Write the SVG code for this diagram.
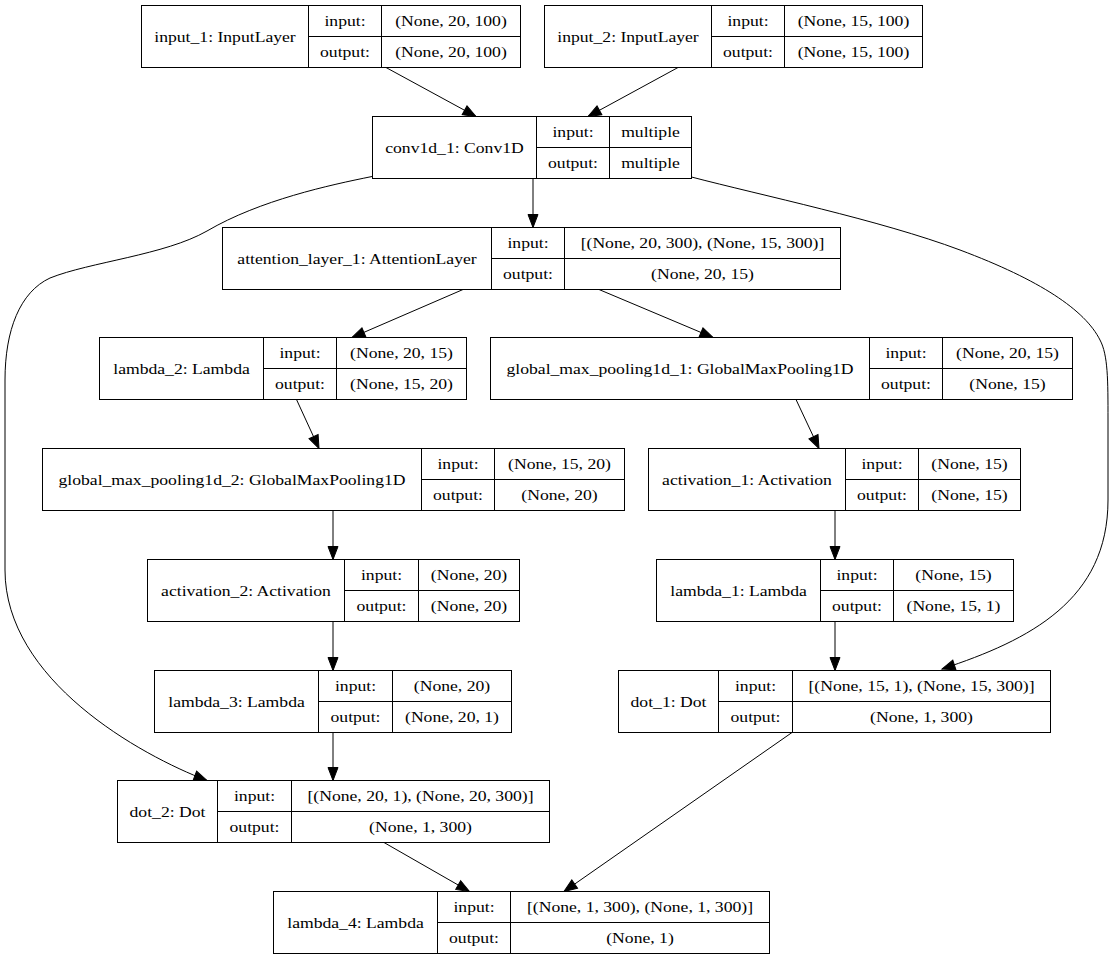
<svg xmlns="http://www.w3.org/2000/svg" width="1115" height="959" viewBox="0 0 1115 959">
<defs>
<style>
.box{fill:#fff;stroke:#000;stroke-width:1}
.ln{fill:none;stroke:#000;stroke-width:1}
.t{font-family:'Liberation Serif','Times New Roman',serif;font-size:14.7px;text-anchor:middle;fill:#000}
.e{fill:none;stroke:#000;stroke-width:1;marker-end:url(#ah)}
</style>
<marker id="ah" markerUnits="userSpaceOnUse" markerWidth="14" markerHeight="11" refX="13" refY="5.5" orient="auto" overflow="visible">
<path d="M0,0.5 L13,5.5 L0,10.5 z" fill="#000" stroke="#000" stroke-width="1"/>
</marker>
</defs>
<rect x="0" y="0" width="1115" height="959" fill="#fff"/>

<g id="edges">
<path class="e" d="M386,67.5 L476,116.5"/>
<path class="e" d="M678,67.5 L588,116.5"/>
<path class="e" d="M533,178.5 L533,227.5"/>
<path class="e" d="M372,176.5 C330,185 260,200 207,231 C165,255 90,262 50,278 C20,292 5,330 5,380 L5,570 C5,680 140,755 207,780.5"/>
<path class="e" d="M691.5,177 C760,195 880,220 960,250 C1040,280 1085,310 1100,340 C1108,355 1108,380 1108,420 L1108,500 C1108,600 1030,640 942,669"/>
<path class="e" d="M463,289.5 L352,337.5"/>
<path class="e" d="M599,289.5 L713,337.5"/>
<path class="e" d="M296.5,399.5 L319,448.5"/>
<path class="e" d="M796,399.5 L819,448.5"/>
<path class="e" d="M333,510.5 L333,559.5"/>
<path class="e" d="M835,510.5 L835,559.5"/>
<path class="e" d="M333,621.5 L333,670.5"/>
<path class="e" d="M835,621.5 L835,670.5"/>
<path class="e" d="M333,732.5 L333,780.5"/>
<path class="e" d="M384,842.5 L469.5,891.5"/>
<path class="e" d="M792,732.5 L564,891.5"/>
</g>

<g id="input_1">
<rect class="box" x="141.5" y="5.5" width="379" height="62"/>
<path class="ln" d="M308.5,5.5V67.5M381.5,5.5V67.5M308.5,36.5H520.5"/>
<text class="t" transform="translate(225,41.5) scale(1.2,1)">input_1: InputLayer</text>
<text class="t" transform="translate(345,26) scale(1.2,1)">input:</text>
<text class="t" transform="translate(345,57) scale(1.2,1)">output:</text>
<text class="t" transform="translate(451,26) scale(1.2,1)">(None, 20, 100)</text>
<text class="t" transform="translate(451,57) scale(1.2,1)">(None, 20, 100)</text>
</g>

<g id="input_2">
<rect class="box" x="544.5" y="5.5" width="378" height="62"/>
<path class="ln" d="M711.5,5.5V67.5M784.5,5.5V67.5M711.5,36.5H922.5"/>
<text class="t" transform="translate(628,41.5) scale(1.2,1)">input_2: InputLayer</text>
<text class="t" transform="translate(748,26) scale(1.2,1)">input:</text>
<text class="t" transform="translate(748,57) scale(1.2,1)">output:</text>
<text class="t" transform="translate(853.5,26) scale(1.2,1)">(None, 15, 100)</text>
<text class="t" transform="translate(853.5,57) scale(1.2,1)">(None, 15, 100)</text>
</g>

<g id="conv1d_1">
<rect class="box" x="372.5" y="116.5" width="319" height="62"/>
<path class="ln" d="M536.5,116.5V178.5M609.5,116.5V178.5M536.5,147.5H691.5"/>
<text class="t" transform="translate(454.5,152.5) scale(1.2,1)">conv1d_1: Conv1D</text>
<text class="t" transform="translate(573,137) scale(1.2,1)">input:</text>
<text class="t" transform="translate(573,168) scale(1.2,1)">output:</text>
<text class="t" transform="translate(650.5,137) scale(1.2,1)">multiple</text>
<text class="t" transform="translate(650.5,168) scale(1.2,1)">multiple</text>
</g>

<g id="attention_layer_1">
<rect class="box" x="222.5" y="227.5" width="618" height="62"/>
<path class="ln" d="M491.5,227.5V289.5M564.5,227.5V289.5M491.5,258.5H840.5"/>
<text class="t" transform="translate(357,263.5) scale(1.2,1)">attention_layer_1: AttentionLayer</text>
<text class="t" transform="translate(528,248) scale(1.2,1)">input:</text>
<text class="t" transform="translate(528,279) scale(1.2,1)">output:</text>
<text class="t" transform="translate(702.5,248) scale(1.2,1)">[(None, 20, 300), (None, 15, 300)]</text>
<text class="t" transform="translate(702.5,279) scale(1.2,1)">(None, 20, 15)</text>
</g>

<g id="lambda_2">
<rect class="box" x="99.5" y="337.5" width="367" height="62"/>
<path class="ln" d="M263.5,337.5V399.5M336.5,337.5V399.5M263.5,368.5H466.5"/>
<text class="t" transform="translate(181.5,373.5) scale(1.2,1)">lambda_2: Lambda</text>
<text class="t" transform="translate(300,358) scale(1.2,1)">input:</text>
<text class="t" transform="translate(300,389) scale(1.2,1)">output:</text>
<text class="t" transform="translate(401.5,358) scale(1.2,1)">(None, 20, 15)</text>
<text class="t" transform="translate(401.5,389) scale(1.2,1)">(None, 15, 20)</text>
</g>

<g id="global_max_pooling1d_1">
<rect class="box" x="490.5" y="337.5" width="582" height="62"/>
<path class="ln" d="M869.5,337.5V399.5M942.5,337.5V399.5M869.5,368.5H1072.5"/>
<text class="t" transform="translate(680,373.5) scale(1.2,1)">global_max_pooling1d_1: GlobalMaxPooling1D</text>
<text class="t" transform="translate(906,358) scale(1.2,1)">input:</text>
<text class="t" transform="translate(906,389) scale(1.2,1)">output:</text>
<text class="t" transform="translate(1007.5,358) scale(1.2,1)">(None, 20, 15)</text>
<text class="t" transform="translate(1007.5,389) scale(1.2,1)">(None, 15)</text>
</g>

<g id="global_max_pooling1d_2">
<rect class="box" x="42.5" y="448.5" width="582" height="62"/>
<path class="ln" d="M421.5,448.5V510.5M494.5,448.5V510.5M421.5,479.5H624.5"/>
<text class="t" transform="translate(232,484.5) scale(1.2,1)">global_max_pooling1d_2: GlobalMaxPooling1D</text>
<text class="t" transform="translate(458,469) scale(1.2,1)">input:</text>
<text class="t" transform="translate(458,500) scale(1.2,1)">output:</text>
<text class="t" transform="translate(559.5,469) scale(1.2,1)">(None, 15, 20)</text>
<text class="t" transform="translate(559.5,500) scale(1.2,1)">(None, 20)</text>
</g>

<g id="activation_1">
<rect class="box" x="648.5" y="448.5" width="372" height="62"/>
<path class="ln" d="M845.5,448.5V510.5M918.5,448.5V510.5M845.5,479.5H1020.5"/>
<text class="t" transform="translate(747,484.5) scale(1.2,1)">activation_1: Activation</text>
<text class="t" transform="translate(882,469) scale(1.2,1)">input:</text>
<text class="t" transform="translate(882,500) scale(1.2,1)">output:</text>
<text class="t" transform="translate(969.5,469) scale(1.2,1)">(None, 15)</text>
<text class="t" transform="translate(969.5,500) scale(1.2,1)">(None, 15)</text>
</g>

<g id="activation_2">
<rect class="box" x="147.5" y="559.5" width="372" height="62"/>
<path class="ln" d="M344.5,559.5V621.5M418.5,559.5V621.5M344.5,590.5H519.5"/>
<text class="t" transform="translate(246,595.5) scale(1.2,1)">activation_2: Activation</text>
<text class="t" transform="translate(381.5,580) scale(1.2,1)">input:</text>
<text class="t" transform="translate(381.5,611) scale(1.2,1)">output:</text>
<text class="t" transform="translate(469,580) scale(1.2,1)">(None, 20)</text>
<text class="t" transform="translate(469,611) scale(1.2,1)">(None, 20)</text>
</g>

<g id="lambda_1">
<rect class="box" x="656.5" y="559.5" width="357" height="62"/>
<path class="ln" d="M820.5,559.5V621.5M893.5,559.5V621.5M820.5,590.5H1013.5"/>
<text class="t" transform="translate(738.5,595.5) scale(1.2,1)">lambda_1: Lambda</text>
<text class="t" transform="translate(857,580) scale(1.2,1)">input:</text>
<text class="t" transform="translate(857,611) scale(1.2,1)">output:</text>
<text class="t" transform="translate(953.5,580) scale(1.2,1)">(None, 15)</text>
<text class="t" transform="translate(953.5,611) scale(1.2,1)">(None, 15, 1)</text>
</g>

<g id="lambda_3">
<rect class="box" x="154.5" y="670.5" width="357" height="62"/>
<path class="ln" d="M318.5,670.5V732.5M392.5,670.5V732.5M318.5,701.5H511.5"/>
<text class="t" transform="translate(236.5,706.5) scale(1.2,1)">lambda_3: Lambda</text>
<text class="t" transform="translate(355.5,691) scale(1.2,1)">input:</text>
<text class="t" transform="translate(355.5,722) scale(1.2,1)">output:</text>
<text class="t" transform="translate(452,691) scale(1.2,1)">(None, 20)</text>
<text class="t" transform="translate(452,722) scale(1.2,1)">(None, 20, 1)</text>
</g>

<g id="dot_1">
<rect class="box" x="618.5" y="670.5" width="432" height="62"/>
<path class="ln" d="M718.5,670.5V732.5M792.5,670.5V732.5M718.5,701.5H1050.5"/>
<text class="t" transform="translate(668.5,706.5) scale(1.2,1)">dot_1: Dot</text>
<text class="t" transform="translate(755.5,691) scale(1.2,1)">input:</text>
<text class="t" transform="translate(755.5,722) scale(1.2,1)">output:</text>
<text class="t" transform="translate(921.5,691) scale(1.2,1)">[(None, 15, 1), (None, 15, 300)]</text>
<text class="t" transform="translate(921.5,722) scale(1.2,1)">(None, 1, 300)</text>
</g>

<g id="dot_2">
<rect class="box" x="117.5" y="780.5" width="432" height="62"/>
<path class="ln" d="M217.5,780.5V842.5M291.5,780.5V842.5M217.5,811.5H549.5"/>
<text class="t" transform="translate(167.5,816.5) scale(1.2,1)">dot_2: Dot</text>
<text class="t" transform="translate(254.5,801) scale(1.2,1)">input:</text>
<text class="t" transform="translate(254.5,832) scale(1.2,1)">output:</text>
<text class="t" transform="translate(420.5,801) scale(1.2,1)">[(None, 20, 1), (None, 20, 300)]</text>
<text class="t" transform="translate(420.5,832) scale(1.2,1)">(None, 1, 300)</text>
</g>

<g id="lambda_4">
<rect class="box" x="273.5" y="891.5" width="496" height="62"/>
<path class="ln" d="M437.5,891.5V953.5M510.5,891.5V953.5M437.5,922.5H769.5"/>
<text class="t" transform="translate(355.5,927.5) scale(1.2,1)">lambda_4: Lambda</text>
<text class="t" transform="translate(474,912) scale(1.2,1)">input:</text>
<text class="t" transform="translate(474,943) scale(1.2,1)">output:</text>
<text class="t" transform="translate(640,912) scale(1.2,1)">[(None, 1, 300), (None, 1, 300)]</text>
<text class="t" transform="translate(640,943) scale(1.2,1)">(None, 1)</text>
</g>
</svg>
